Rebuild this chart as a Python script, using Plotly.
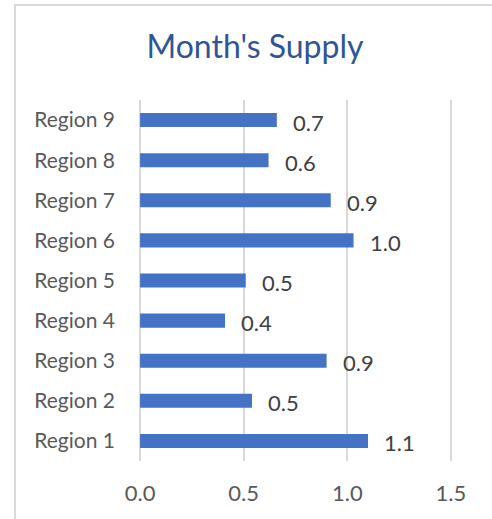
import plotly.graph_objects as go

regions = ["Region 1", "Region 2", "Region 3", "Region 4", "Region 5",
           "Region 6", "Region 7", "Region 8", "Region 9"]
months_supply = [1.10, 0.54, 0.90, 0.41, 0.51, 1.03, 0.92, 0.62, 0.66]
x_ticks = [0.0, 0.5, 1.0, 1.5]
x_tick_labels = ["0.0", "0.5", "1.0", "1.5"]
title_text = "Month's Supply"

FONT = "Lato"
W, H = 492, 519
L, R, T, B = 138, 39, 100, 58
XR = [-0.01, 1.51]

fig = go.Figure()
fig.add_trace(go.Bar(
    x=months_supply, y=regions, orientation="h",
    marker=dict(color="#4472C4", line=dict(width=0)),
    hoverinfo="x+y",
))

for v, r in zip(months_supply, regions):
    fig.add_annotation(x=v, y=r, text=f"{v:.1f}", showarrow=False,
                       xanchor="left", yanchor="middle", xshift=14, yshift=-2,
                       font=dict(family=FONT, size=22, color="#404040"))

pw = W - L - R
ph = H - T - B
bx0 = (15 - L) / pw
bx1 = (W + 60 - L) / pw
by0 = (H - B - (H + 60)) / ph
by1 = (H - B - 5) / ph
fig.add_shape(type="path", xref="paper", yref="paper",
              path=f"M {bx0},{by0} L {bx0},{by1} L {bx1},{by1}",
              line=dict(color="#D9D9D9", width=2), layer="below")

fig.update_layout(
    width=W, height=H,
    margin=dict(l=L, r=R, t=T, b=B),
    paper_bgcolor="white", plot_bgcolor="white",
    showlegend=False,
    bargap=0.65,
    title=dict(text=title_text, x=255 / W, xanchor="center",
               y=1 - 47 / H, yanchor="middle",
               font=dict(family=FONT, size=32, color="#2F5597")),
    xaxis=dict(range=XR, tickvals=x_ticks, ticktext=x_tick_labels,
               showgrid=True, gridcolor="#D9D9D9", gridwidth=1.5,
               zeroline=False, showline=False, ticks="",
               ticklabelstandoff=17,
               tickfont=dict(family=FONT, size=22, color="#595959")),
    yaxis=dict(categoryorder="array", categoryarray=regions,
               showgrid=False, zeroline=False, showline=False, ticks="",
               ticklabelstandoff=22,
               tickfont=dict(family=FONT, size=21, color="#595959")),
)

fig.write_html("out.html",
               config={"displayModeBar": False},
               post_script=("document.body.style.margin='0';"
                            "document.body.style.overflow='hidden';"
                            "document.documentElement.style.overflow='hidden';"))
